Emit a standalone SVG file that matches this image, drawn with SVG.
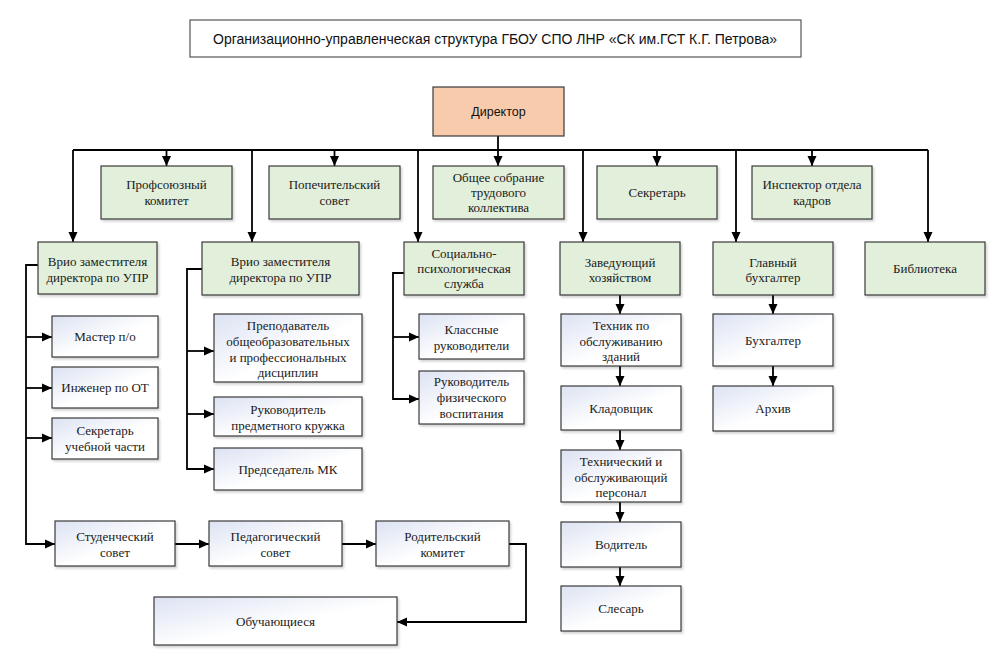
<svg xmlns="http://www.w3.org/2000/svg" width="1001" height="660" viewBox="0 0 1001 660">
<defs>
  <marker id="arr" markerUnits="userSpaceOnUse" markerWidth="10" markerHeight="10" refX="10" refY="5" orient="auto">
    <path d="M0,0.5 L10,5 L0,9.5 z" fill="#000"/>
  </marker>
  <linearGradient id="wg" x1="0" y1="0" x2="1" y2="1">
    <stop offset="0" stop-color="#dce2f3"/>
    <stop offset="0.55" stop-color="#ffffff"/>
    <stop offset="1" stop-color="#ffffff"/>
  </linearGradient>
  <filter id="sh" x="-5%" y="-5%" width="115%" height="125%">
    <feDropShadow dx="1.5" dy="2" stdDeviation="1.2" flood-color="#000" flood-opacity="0.18"/>
  </filter>
</defs>
<style>
  .t { font-family: "Liberation Serif", "Times New Roman", serif; font-size: 13px; fill: #1a1a1a; text-anchor: middle; }
  .s { font-family: "Liberation Sans", Arial, sans-serif; fill: #111; text-anchor: middle; }
  .g { fill: #e2efda; stroke: #3a3a3a; stroke-width: 1.2; filter: url(#sh); }
  .w { fill: url(#wg); stroke: #3a3a3a; stroke-width: 1.2; filter: url(#sh); }
  .d { fill: #f8cbad; stroke: #3a3a3a; stroke-width: 1.2; }
  .ti { fill: #ffffff; stroke: #555; stroke-width: 1.2; }
  .c { fill: none; stroke: #000; stroke-width: 1.8; }
  .a { marker-end: url(#arr); }
</style>
<rect width="1001" height="660" fill="#ffffff"/>

<g id="title">
  <rect class="ti" x="190" y="20" width="611" height="37"/>
  <text class="s" x="495" y="43.5" font-size="14" textLength="564" lengthAdjust="spacingAndGlyphs">Организационно-управленческая структура ГБОУ СПО ЛНР «СК им.ГСТ К.Г. Петрова»</text>
</g>

<g id="connectors">
  <path class="c" d="M73,150 H928"/>
  <path class="c a" d="M498,136 V166"/>
  <path class="c a" d="M166.5,150 V166"/>
  <path class="c a" d="M334.5,150 V166"/>
  <path class="c a" d="M657,150 V166"/>
  <path class="c a" d="M812,150 V166"/>
  <path class="c a" d="M73,150 V242"/>
  <path class="c a" d="M252,150 V242"/>
  <path class="c a" d="M418,150 V242"/>
  <path class="c a" d="M583,150 V242"/>
  <path class="c a" d="M736,150 V242"/>
  <path class="c a" d="M928,150 V242"/>

  <path class="c a" d="M38,265 H26 V544 H55"/>
  <path class="c a" d="M26,337 H52"/>
  <path class="c a" d="M26,388 H52"/>
  <path class="c a" d="M26,438 H52"/>

  <path class="c a" d="M202,269 H187 V469 H214"/>
  <path class="c a" d="M187,351 H214"/>
  <path class="c a" d="M187,414 H214"/>

  <path class="c a" d="M404,273 H393 V399 H419"/>
  <path class="c a" d="M393,337 H419"/>

  <path class="c a" d="M620,295 V314"/>
  <path class="c a" d="M620,366 V386"/>
  <path class="c a" d="M620,430 V450"/>
  <path class="c a" d="M620,502 V522"/>
  <path class="c a" d="M620,567 V586"/>

  <path class="c a" d="M773,295 V314"/>
  <path class="c a" d="M773,366 V386"/>

  <path class="c a" d="M175,544 H209"/>
  <path class="c a" d="M342,544 H376"/>
  <path class="c a" d="M509,544 H526 V622 H397"/>
</g>

<g id="director">
  <rect class="d" x="433" y="87" width="131" height="49"/>
  <text class="s" x="498.5" y="116" font-size="12.5">Директор</text>
</g>

<g id="profcom">
  <rect class="g" x="101" y="166" width="131" height="53"/>
  <text class="t" x="166.5" y="189">Профсоюзный</text>
  <text class="t" x="166.5" y="205">комитет</text>
</g>
<g id="popech">
  <rect class="g" x="269" y="166" width="131" height="53"/>
  <text class="t" x="334.5" y="189">Попечительский</text>
  <text class="t" x="334.5" y="205">совет</text>
</g>
<g id="obshee">
  <rect class="g" x="433" y="166" width="131" height="53"/>
  <text class="t" x="498.5" y="182">Общее собрание</text>
  <text class="t" x="498.5" y="197">трудового</text>
  <text class="t" x="498.5" y="212">коллектива</text>
</g>
<g id="sekretar">
  <rect class="g" x="597" y="166" width="120" height="53"/>
  <text class="t" x="657" y="197">Секретарь</text>
</g>
<g id="inspector">
  <rect class="g" x="752" y="166" width="120" height="53"/>
  <text class="t" x="812" y="189">Инспектор отдела</text>
  <text class="t" x="812" y="205">кадров</text>
</g>

<g id="vrio1">
  <rect class="g" x="38" y="242" width="119" height="52"/>
  <text class="t" x="97.5" y="265.5">Врио заместителя</text>
  <text class="t" x="97.5" y="281.5">директора по УПР</text>
</g>
<g id="vrio2">
  <rect class="g" x="202" y="242" width="157" height="53"/>
  <text class="t" x="280.5" y="265.5">Врио заместителя</text>
  <text class="t" x="280.5" y="281.5">директора по УПР</text>
</g>
<g id="social">
  <rect class="g" x="404" y="242" width="120" height="53"/>
  <text class="t" x="464" y="258">Социально-</text>
  <text class="t" x="464" y="273">психологическая</text>
  <text class="t" x="464" y="288">служба</text>
</g>
<g id="zaved">
  <rect class="g" x="560" y="242" width="120" height="53"/>
  <text class="t" x="620" y="266.5">Заведующий</text>
  <text class="t" x="620" y="282">хозяйством</text>
</g>
<g id="glavbuh">
  <rect class="g" x="713" y="242" width="120" height="53"/>
  <text class="t" x="773" y="266.5">Главный</text>
  <text class="t" x="773" y="282">бухгалтер</text>
</g>
<g id="biblio">
  <rect class="g" x="865" y="242" width="120" height="53"/>
  <text class="t" x="925" y="273">Библиотека</text>
</g>

<g id="master">
  <rect class="w" x="52" y="316" width="106" height="41"/>
  <text class="t" x="105" y="341">Мастер п/о</text>
</g>
<g id="inzhener">
  <rect class="w" x="52" y="367" width="106" height="41"/>
  <text class="t" x="105" y="392">Инженер по ОТ</text>
</g>
<g id="sekr_uch">
  <rect class="w" x="52" y="418" width="106" height="41"/>
  <text class="t" x="105" y="435">Секретарь</text>
  <text class="t" x="105" y="451">учебной части</text>
</g>

<g id="prepod">
  <rect class="w" x="214" y="314" width="148" height="68"/>
  <text class="t" x="288" y="329.5">Преподаватель</text>
  <text class="t" x="288" y="345.5">общеобразовательных</text>
  <text class="t" x="288" y="361.5">и профессиональных</text>
  <text class="t" x="288" y="377">дисциплин</text>
</g>
<g id="ruk_kruzh">
  <rect class="w" x="214" y="397" width="148" height="39"/>
  <text class="t" x="288" y="413.5">Руководитель</text>
  <text class="t" x="288" y="429.5">предметного кружка</text>
</g>
<g id="predsed">
  <rect class="w" x="214" y="448" width="148" height="42"/>
  <text class="t" x="288" y="473.5">Председатель МК</text>
</g>

<g id="klass">
  <rect class="w" x="419" y="314" width="105" height="45"/>
  <text class="t" x="471.5" y="334">Классные</text>
  <text class="t" x="471.5" y="349.5">руководители</text>
</g>
<g id="fiz">
  <rect class="w" x="419" y="371" width="105" height="53"/>
  <text class="t" x="471.5" y="386">Руководитель</text>
  <text class="t" x="471.5" y="402">физического</text>
  <text class="t" x="471.5" y="418">воспитания</text>
</g>

<g id="tekhnik">
  <rect class="w" x="561" y="314" width="120" height="52"/>
  <text class="t" x="621" y="329.5">Техник по</text>
  <text class="t" x="621" y="345.5">обслуживанию</text>
  <text class="t" x="621" y="361">зданий</text>
</g>
<g id="kladov">
  <rect class="w" x="561" y="386" width="120" height="44"/>
  <text class="t" x="621" y="412.5">Кладовщик</text>
</g>
<g id="tekh_pers">
  <rect class="w" x="561" y="450" width="120" height="52"/>
  <text class="t" x="621" y="466">Технический и</text>
  <text class="t" x="621" y="482">обслуживающий</text>
  <text class="t" x="621" y="497">персонал</text>
</g>
<g id="voditel">
  <rect class="w" x="561" y="522" width="120" height="45"/>
  <text class="t" x="621" y="549">Водитель</text>
</g>
<g id="slesar">
  <rect class="w" x="561" y="586" width="120" height="45"/>
  <text class="t" x="621" y="613">Слесарь</text>
</g>

<g id="buhgalter">
  <rect class="w" x="713" y="314" width="120" height="52"/>
  <text class="t" x="773" y="344.5">Бухгалтер</text>
</g>
<g id="arhiv">
  <rect class="w" x="713" y="386" width="120" height="45"/>
  <text class="t" x="773" y="413">Архив</text>
</g>

<g id="student">
  <rect class="w" x="55" y="521" width="120" height="45"/>
  <text class="t" x="115" y="540.5">Студенческий</text>
  <text class="t" x="115" y="556.5">совет</text>
</g>
<g id="pedsov">
  <rect class="w" x="209" y="521" width="133" height="45"/>
  <text class="t" x="275.5" y="540.5">Педагогический</text>
  <text class="t" x="275.5" y="556.5">совет</text>
</g>
<g id="roditel">
  <rect class="w" x="376" y="521" width="133" height="45"/>
  <text class="t" x="442.5" y="540.5">Родительский</text>
  <text class="t" x="442.5" y="556.5">комитет</text>
</g>
<g id="obuch">
  <rect class="w" x="154" y="597" width="243" height="48"/>
  <text class="t" x="275.5" y="625.5">Обучающиеся</text>
</g>
</svg>
